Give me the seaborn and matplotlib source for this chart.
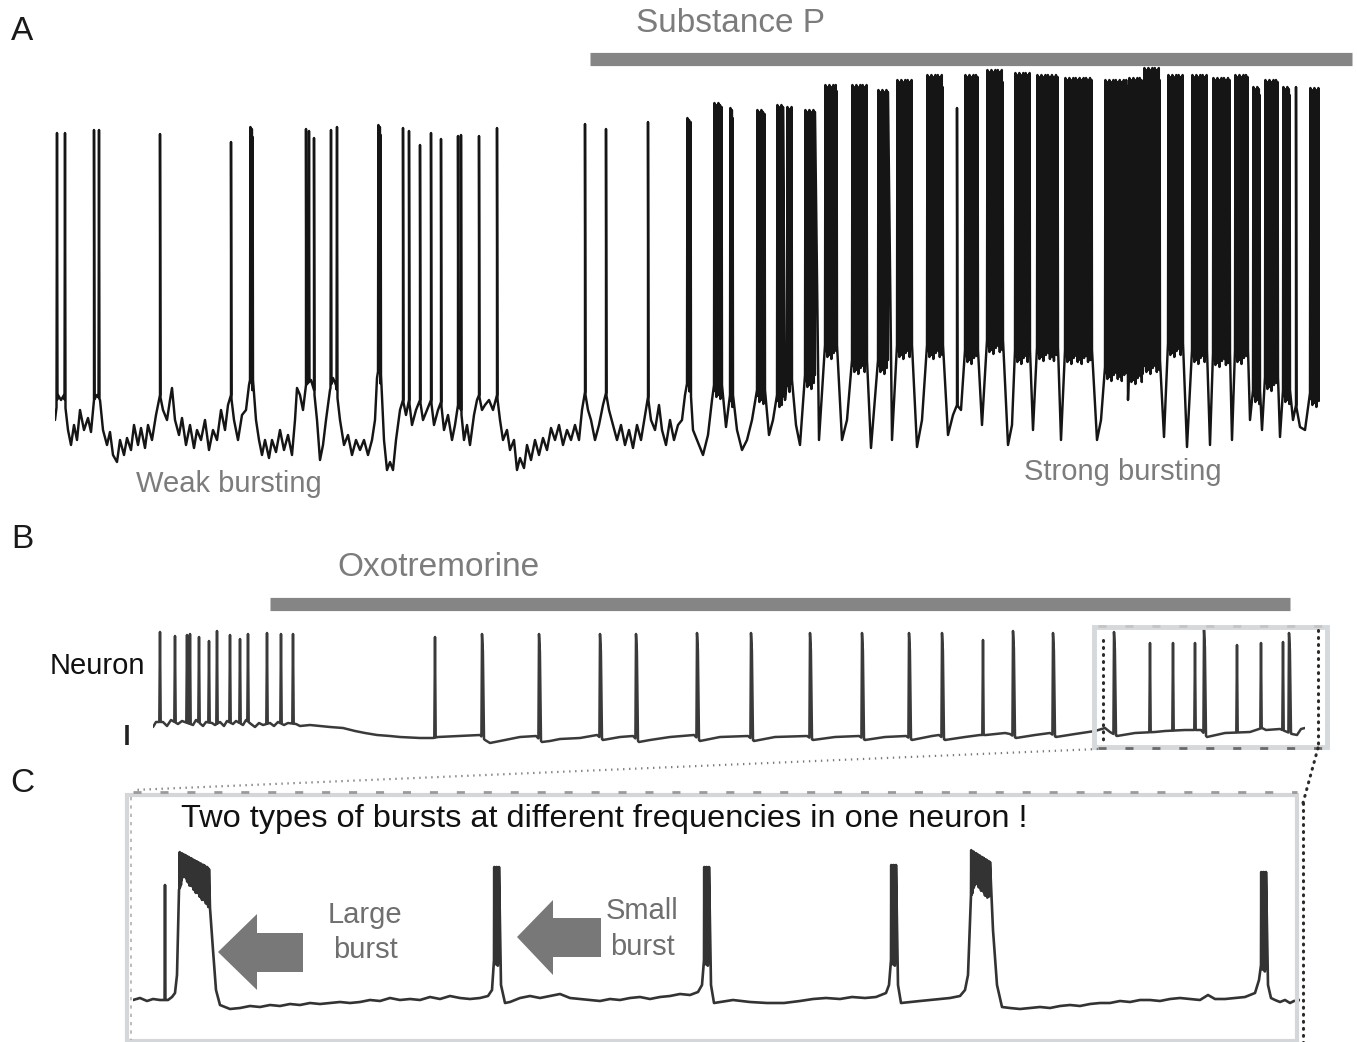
import numpy as np
import pandas as pd
import matplotlib
matplotlib.use("Agg")
import matplotlib.pyplot as plt
import matplotlib.transforms as mtransforms
from matplotlib.patches import Polygon, Rectangle
import seaborn as sns

# ---------------------------------------------------------------------------
# Panel A: whole-cell recording, Substance P application (time s, Vm mV)
# ---------------------------------------------------------------------------
A_BASE_T = [
    0, 1.5, 3, 4.5, 6.5, 8, 9.5, 11, 12.5, 14.5,
    16.5, 18, 19.5, 21, 22.5, 24, 26, 27.5, 29, 31,
    32.5, 34.5, 36, 38, 39.5, 41.5, 43, 45, 46.5, 48.5,
    50.5, 52.5, 54, 56, 57.5, 58.5, 60, 62, 63.5, 65.5,
    67.5, 69.5, 71, 73, 75, 77, 79, 81, 83, 85,
    86.5, 88, 89.5, 91.5, 93.5, 95.5, 97, 98, 99, 100.5,
    102, 103.5, 105, 107, 108.5, 110.5, 112.5, 114.5, 116.5, 118.5,
    120, 121, 122.5, 124, 125.5, 128, 129.5, 131, 132.5, 134,
    135.5, 137.5, 139, 140.5, 142.5, 144.5, 146.5, 148.5, 150.5, 152.5,
    154.5, 156.5, 158.5, 160, 161, 162, 163, 164.5, 166, 167.5,
    169, 170.5, 172.5, 174, 175.5, 177, 178.5, 180.5, 182.5, 184,
    186, 188, 189.5, 191.5, 193, 194.5, 196.5, 198.5, 200, 201.5,
    203, 204.5, 206, 207.5, 209.5, 211, 212, 213.5, 215, 217,
    219, 221, 222.5, 224, 226, 227.5, 229.5, 231, 232.5, 234.5,
    236, 238, 240, 242, 244, 246, 248, 250, 252, 254,
    256, 258, 260, 262, 263.5, 265, 266.5, 268, 270, 272,
    274, 275.5, 277, 279, 281, 283, 285, 287, 289, 291,
    293, 295, 296.5, 298, 300, 302, 303.5, 305.5, 307.5, 309.5,
    311.5, 313.5, 315, 316.5, 317.5, 319, 321, 324, 326.5, 328.5,
    329.5, 333.5, 335.5, 337.5, 339, 341, 343.5, 346, 348.5, 351,
    355, 357, 359, 361, 364, 365, 366, 368.5, 370.5, 372.5,
    375, 380, 382, 385, 391, 393.5, 396, 398.5, 406, 408,
    411.5, 416.5, 418.5, 421, 428.5, 431, 433.5, 436, 444, 446.5,
    449, 451, 453, 455, 461.5, 463.5, 466, 474, 476.5, 478.5,
    480, 487.5, 489, 491, 501.5, 503, 505, 518.5, 521, 523,
    525, 536, 536.5, 537, 544, 544.5, 552.5, 554.5, 556.5, 564,
    566, 568.5, 576, 577.5, 579, 587.5, 588.5, 590, 596.5, 597.5,
    599, 602.5, 603.5, 605, 611.5, 612.5, 614, 617.5, 619, 620.5,
    622.5, 625, 627.5, 632.5,
]
A_BASE_V = [
    -57.5, -51.25, -52.5, -51.25, -60, -63.75, -58.75, -62.5, -55, -60,
    -57, -60.5, -52.5, -51.25, -52.5, -60, -63.75, -60.5, -66.25, -68,
    -62.5, -66.25, -62, -65, -58.75, -63.75, -59.5, -64.5, -58.75, -62.5,
    -56.25, -51.25, -55, -57.5, -52.5, -49.5, -57.5, -61.25, -57, -63.75,
    -58.75, -64.5, -60, -62.5, -57.5, -65, -60, -62.5, -55, -60,
    -53.75, -51.25, -57.5, -62.5, -56.25, -55, -48.75, -46.25, -47.5, -57.5,
    -62.5, -66.25, -62.5, -67, -62.5, -65.5, -60, -65, -61.25, -66.25,
    -57.5, -49.5, -51.25, -55, -48.75, -47.5, -50, -57.5, -67.5, -63.75,
    -57.5, -50, -47, -48.75, -57.5, -63.75, -61.25, -66.25, -62.5, -65,
    -62.5, -66.25, -62.5, -57.5, -47, -43.75, -46.25, -62.5, -70, -68,
    -70, -62.5, -55, -52.5, -56.25, -52.5, -58.75, -55, -52.5, -57.5,
    -55, -52.5, -58.75, -55, -53, -60, -56.25, -62.5, -58.75, -53.75,
    -55, -62.5, -58.75, -63.75, -56.25, -52.5, -51.25, -55, -53.75, -52.5,
    -55, -51.25, -57.5, -62.5, -60, -65, -62.5, -70, -67, -69.5,
    -63.75, -67.5, -62.5, -66.25, -62, -65, -59.5, -62.5, -58.75, -63.75,
    -60, -62.5, -58.75, -62.5, -55, -50.5, -55, -57.5, -62.5, -58.75,
    -53.75, -50.75, -55, -58.75, -62.5, -58.75, -63.75, -60, -64.5, -58.75,
    -62.5, -56.25, -51.75, -57.5, -60, -53.75, -60, -63.75, -57.5, -62.5,
    -58.75, -57.5, -51.25, -47, -47.5, -60, -62.5, -66.25, -61.25, -52.5,
    -48.75, -48.75, -59.25, -51.25, -51.25, -60, -65, -62.5, -57.5, -50,
    -50, -61.25, -57.5, -51.25, -51.25, -52.5, -47.5, -47.5, -58.75, -63.75,
    -46.25, -46.25, -62.5, -38.75, -38.75, -62.5, -57.5, -42.5, -42.5, -64.5,
    -42.5, -42.5, -62.5, -38.75, -38.75, -64.25, -57.5, -38.75, -38.75, -61.25,
    -56.25, -53.75, -55, -40, -40, -58.75, -37.5, -37.5, -63.75, -58.75,
    -40, -40, -60, -39.25, -39.25, -62.5, -40, -40, -62.5, -57.5,
    -44.25, -44.25, -52.5, -45, -45, -42.5, -42.5, -61.75, -38.25, -38.25,
    -64.25, -40, -40, -63.75, -40.75, -40.75, -62.5, -40, -40, -57.5,
    -50, -50, -60, -46.75, -46.75, -61.75, -50, -50, -57.5, -53.75,
    -59.25, -60, -50.75, -50.75,
]
A_SPIKE_T = [1, 5, 19.5, 22, 52.5, 88, 125.5, 127, 129.5, 138, 141, 174, 177,
             182.5, 188, 193, 201.5, 203, 212, 221, 265, 275.5, 296.5, 451, 620.5]
A_SPIKE_V = [14.25, 14.25, 15, 15, 14, 12, 15.25, 14.75, 13, 15, 15.75, 15.5, 14.75,
             11.25, 14.25, 12.75, 13.5, 13.75, 13.5, 15.5, 16.5, 15.25, 17, 20.5, 25.75]
A_BURST_START = [97.5, 161.5, 316, 329.5, 337.5, 351, 361, 366, 375, 385, 398.5,
                 411.5, 421, 436, 455, 466, 480, 491, 505, 525, 537, 544.5, 556.5,
                 568.5, 579, 590, 599, 605, 614, 627.5]
A_BURST_END = [99, 163, 318, 333.5, 339, 355, 364, 368.5, 380, 391, 406,
               416.5, 428.5, 444, 461.5, 474, 487.5, 501.5, 518.5, 536, 544, 552.5, 564,
               576, 587.5, 596.5, 602.5, 611.5, 617.5, 632.5]
A_BURST_TOP = [15.75, 16.25, 18, 21.75, 20.5, 20, 21.25, 20.75, 20, 26.25, 26.25,
               25, 27.5, 28.75, 28.75, 30, 29.25, 28.75, 28, 27.5, 28, 30.5, 28.75,
               28.75, 28, 28.75, 25.75, 27.5, 25.75, 25.5]
SUBSTANCE_P_ON = [267.5, 648.5]

# ---------------------------------------------------------------------------
# Panel B: Oxotremorine application
# ---------------------------------------------------------------------------
B_BASE_T = [
    0, 1.5, 5, 7, 9, 12.5, 14.5, 20, 21.5, 25,
    26.5, 29.5, 31, 33.5, 35.5, 37, 40, 41.5, 45, 46.5,
    49, 51, 53, 55, 58.5, 60.5, 62.5, 65.5, 67.5, 71.5,
    73.5, 78.5, 83.5, 88.5, 95, 101, 106, 112, 118.5, 123.5,
    133.5, 140, 142.5, 153.5, 163.5, 166, 168.5, 173.5, 178.5, 183.5,
    191.5, 194.5, 198.5, 203.5, 213.5, 222, 225, 233.5, 240, 243,
    248.5, 258.5, 270.5, 273.5, 283.5, 297.5, 300.5, 311, 327, 330,
    341, 353, 356, 366, 376.5, 379.5, 389.5, 393, 396, 406,
    413.5, 416.5, 426, 428.5, 431.5, 441, 448.5, 451.5, 461, 471,
    476, 478.5, 482, 491, 501, 506, 516, 524, 527, 536,
    548.5, 554.5, 556.5, 563.5, 569.5, 572, 574, 576,
]
B_BASE_V = [
    -53.6, -49.6, -49.6, -52.8, -48, -51.2, -48.8, -52, -48, -52.8,
    -49.6, -50.4, -52, -49.6, -52.8, -48.8, -51.2, -48.8, -52, -48,
    -51.2, -53.6, -50.4, -52, -50.4, -52.8, -49.6, -52, -50.4, -51.2,
    -52.8, -52, -52.8, -53.6, -54.4, -56.8, -58.4, -60, -60.8, -61.6,
    -62.4, -62.4, -61.6, -60.8, -60, -64, -66.4, -64.8, -63.2, -61.6,
    -60.8, -65.6, -64.8, -63.2, -62.4, -60, -64, -61.6, -60.8, -65.6,
    -64, -61.6, -60, -64.8, -61.6, -60.8, -64.8, -61.6, -60.8, -64,
    -61.6, -60.8, -64, -61.6, -60.8, -64, -60.8, -60, -64, -61.6,
    -60, -60, -58.4, -59.2, -62.4, -60, -58.4, -61.6, -59.2, -56.8,
    -54.4, -57.6, -60.8, -58.4, -57.6, -56.8, -56, -56, -61.6, -58.4,
    -57.6, -54.4, -56, -55.2, -59.2, -60, -55.2, -54.4,
]
B_SPIKE_T = [3.5, 11, 17, 18.5, 23, 28, 32, 38.5, 43.5, 47.5, 57, 64, 70,
             141, 415, 498.5, 510, 521, 542, 554, 565]
B_SPIKE_V = [22.4, 19.2, 20, 20.8, 18.4, 15.2, 23.2, 20, 16.8, 20.8, 21.6, 20.8, 20.8,
             18.4, 16, 13.6, 13.6, 13.6, 12, 13.6, 14.4]
B_BURST_T = [164.5, 193, 223.5, 241.5, 272, 299, 328.5, 354.5, 378, 394.5,
             430, 450, 480.5, 525.5, 568]
B_BURST_V = [20.8, 20.8, 20.8, 20.8, 21.6, 21.6, 21.6, 21.6, 21.6, 21.6,
             23.2, 21.6, 22.4, 24, 21.6]
OXO_ON = [58.5, 568.5]

# ---------------------------------------------------------------------------
# Panel C: expanded segment, large and small bursts
# ---------------------------------------------------------------------------
C_BASE_T = [
    0, 0.35, 0.7, 1.0, 1.35, 1.75, 1.95, 2.1, 2.2, 2.3,
    2.5, 2.85, 3.2, 3.55, 3.75, 3.85, 4.0, 4.15, 4.35, 4.85,
    5.35, 5.85, 6.35, 6.85, 7.35, 7.85, 8.35, 8.85, 9.35, 9.85,
    10.35, 10.85, 11.35, 11.85, 12.35, 12.85, 13.35, 13.85, 14.35, 14.85,
    15.35, 15.85, 16.35, 16.85, 17.35, 17.75, 17.95, 18.05, 18.3, 18.4,
    18.6, 18.85, 19.35, 19.85, 20.35, 20.85, 21.35, 21.85, 22.35, 22.85,
    23.35, 23.85, 24.35, 24.85, 25.35, 25.85, 26.35, 26.85, 27.35, 27.85,
    28.25, 28.45, 28.55, 28.8, 28.9, 29.05, 30.0, 30.85, 31.7, 32.55,
    33.35, 34.0, 34.65, 35.35, 35.95, 36.6, 37.15, 37.65, 37.8, 37.9,
    38.15, 38.25, 38.4, 38.85, 39.35, 39.85, 40.35, 40.85, 41.35, 41.6,
    41.75, 41.9, 42.1, 42.35, 42.6, 42.85, 43.0, 43.2, 43.45, 43.85,
    44.35, 44.85, 45.35, 45.85, 46.35, 46.85, 47.35, 47.85, 48.35, 48.85,
    49.35, 49.85, 50.35, 50.85, 51.35, 51.85, 52.35, 52.85, 53.35, 53.75,
    54.1, 54.6, 55.1, 55.6, 56.1, 56.3, 56.4, 56.65, 56.75, 56.9,
    57.1, 57.35, 57.6, 57.85, 58.05, 58.35,
]
C_BASE_V = [
    -60, -59, -60.5, -59.5, -60, -60, -58.5, -56.5, -47.5, -5,
    4, -1, -5, -9, -11, -14, -35, -55, -62.5, -64.5,
    -64, -63, -63.5, -62.5, -63, -62, -62.5, -61.5, -62, -61.5,
    -61, -61.5, -61, -60, -60.5, -59, -60, -59.5, -60, -58.5,
    -59.5, -58, -59, -59.5, -59, -58, -55, -40, -41, -52.5,
    -61.5, -61, -59, -58, -59, -58, -57, -59, -59.5, -60,
    -60.5, -59.5, -60, -59, -58.5, -59.5, -58.5, -58, -57, -57.5,
    -56, -52.5, -40, -41, -52.5, -61.5, -60, -61, -61.5, -61.5,
    -60.5, -59.5, -59, -59.5, -58.5, -59, -58.5, -56.5, -52.5, -40,
    -41, -52.5, -61.5, -61, -60.5, -60, -59.5, -59, -58, -55,
    -47.5, -7.5, 0, -2.5, -6, -7.5, -25, -52.5, -63.5, -64,
    -64.5, -64, -63.5, -64, -63, -62.5, -63, -62, -61.5, -61.5,
    -60.5, -61, -60, -60, -60.5, -59.5, -59, -59.5, -60, -57.5,
    -59.5, -59.5, -59, -58.5, -56.5, -50, -42.5, -44, -52.5, -59,
    -60, -61, -60, -61.5, -60.5, -60,
]
C_SPIKE_T = [1.6]
C_SPIKE_V = [-2.5]
C_BURST_START = [2.325, 18.05, 28.55, 37.9, 41.9, 56.4]
C_BURST_END = [3.8, 18.3, 28.8, 38.15, 42.85, 56.65]
C_BURST_TOP_START = [14, 6.5, 6.5, 7.5, 15, 4]
C_BURST_TOP_END = [6, 6.5, 6.5, 7.5, 9, 4]

# spike-to-spike ripple inside a burst (mV relative to the envelope / the floor)
RIPPLE_TOP = [0.0, -1.5, -0.5, -2.5, -1.0, 0.0, -3.0, -0.5, -2.0, -1.0, 0.0, -2.0, -0.5]
RIPPLE_FLOOR = [0.0, -1.5, -0.5, -3.0, -1.0, 0.0, -2.5, -0.5, -3.5, -1.0, -0.5, -2.0, 0.0]


def build_trace(base_t, base_v, spike_t=(), spike_v=(), spike_hw=0.25,
                burst_start=(), burst_end=(), top_start=(), top_end=(),
                burst_step=0.2, broad_t=(), broad_v=(), ripple=1.0):
    """Assemble a voltage trace from the membrane baseline, single spikes,
    broad (shouldered) spikes and high-frequency bursts."""
    bt = np.asarray(base_t, float)
    bv = np.asarray(base_v, float)

    def base_at(t):
        return np.interp(t, bt, bv)

    ts, vs = [bt], [bv]
    for t, v in zip(spike_t, spike_v):
        tt = np.array([t - spike_hw, t, t + spike_hw])
        ts.append(tt)
        vs.append(np.array([base_at(tt[0]), v, base_at(tt[2])]))
    for t, v in zip(broad_t, broad_v):
        tt = np.array([t - 0.3, t, t + 0.45, t + 1.0])
        ts.append(tt)
        vs.append(np.array([base_at(tt[0]), v, v - 14, base_at(tt[3])]))
    rt = np.array(RIPPLE_TOP) * ripple
    rf = np.array(RIPPLE_FLOOR) * ripple
    for t0, t1, a, b in zip(burst_start, burst_end, top_start, top_end):
        n = max(int(round((t1 - t0) / burst_step)), 2)
        tt = np.linspace(t0, t1, n + 1)
        idx = np.arange(n + 1)
        top = a + (b - a) * (tt - t0) / (t1 - t0) + rt[(idx // 2) % len(rt)]
        floor = base_at(tt) + rf[(idx // 2) % len(rf)]
        floor[0] = base_at(tt[0])
        floor[-1] = base_at(tt[-1])
        ts.append(tt)
        vs.append(np.where(idx % 2 == 1, top, floor))
    t_all = np.concatenate(ts)
    v_all = np.concatenate(vs)
    order = np.argsort(t_all, kind="stable")
    return pd.DataFrame({"time": t_all[order], "vm": v_all[order]})


trace_a = build_trace(A_BASE_T, A_BASE_V, A_SPIKE_T, A_SPIKE_V, spike_hw=0.25,
                      burst_start=A_BURST_START, burst_end=A_BURST_END,
                      top_start=A_BURST_TOP, top_end=A_BURST_TOP, burst_step=0.2)
trace_b = build_trace(B_BASE_T, B_BASE_V, B_SPIKE_T, B_SPIKE_V, spike_hw=0.35,
                      broad_t=B_BURST_T, broad_v=B_BURST_V)
trace_c = build_trace(C_BASE_T, C_BASE_V, C_SPIKE_T, C_SPIKE_V, spike_hw=0.02,
                      burst_start=C_BURST_START, burst_end=C_BURST_END,
                      top_start=C_BURST_TOP_START, top_end=C_BURST_TOP_END,
                      burst_step=0.012, ripple=0.6)

# ---------------------------------------------------------------------------
# Figure
# ---------------------------------------------------------------------------
sns.set_theme(style="white")
plt.rcParams["font.family"] = ["Liberation Sans", "DejaVu Sans"]

W, H = 1357, 1042
fig = plt.figure(figsize=(W / 100, H / 100), dpi=100)
fig.patch.set_facecolor("white")


def px_axes(left, top, right, bottom):
    return fig.add_axes([left / W, 1 - bottom / H, (right - left) / W, (bottom - top) / H])


ax_a = px_axes(55, 60, 1320, 480)
ax_b = px_axes(153, 620, 1305, 755)
ax_c = px_axes(133, 840, 1300, 1020)

sns.lineplot(data=trace_a, x="time", y="vm", ax=ax_a, sort=False, estimator=None,
             color="#151515", linewidth=1.75)
sns.lineplot(data=trace_b, x="time", y="vm", ax=ax_b, sort=False, estimator=None,
             color="#3a3a3a", linewidth=1.8)
sns.lineplot(data=trace_c, x="time", y="vm", ax=ax_c, sort=False, estimator=None,
             color="#333333", linewidth=1.9)

ax_a.set_xlim(0, 632.5)
ax_a.set_ylim(-72.5, 32.5)
ax_b.set_xlim(0, 576)
ax_b.set_ylim(-76, 32)
ax_c.set_xlim(0, 58.35)
ax_c.set_ylim(-70, 20)
for ax in (ax_a, ax_b, ax_c):
    ax.set_axis_off()

# overlay in pixel units for annotation
ov = fig.add_axes([0, 0, 1, 1])
ov.set_xlim(0, W)
ov.set_ylim(H, 0)
ov.set_axis_off()

# drug application bars (time on the trace axes, height on the overlay)
bar_color = "#858585"
ov.plot(SUBSTANCE_P_ON, [59, 59], color=bar_color, lw=9.5, solid_capstyle="butt",
        transform=mtransforms.blended_transform_factory(ax_a.transData, ov.transData),
        clip_on=False)
ov.plot(OXO_ON, [604, 604], color=bar_color, lw=9.5, solid_capstyle="butt",
        transform=mtransforms.blended_transform_factory(ax_b.transData, ov.transData),
        clip_on=False)

grey_txt = "#7c7c7c"
ov.text(22, 31, "A", fontsize=24, color="#1a1a1a", ha="center", va="center")
ov.text(22, 540, "B", fontsize=24, color="#1a1a1a", ha="center", va="center")
ov.text(22, 784, "C", fontsize=24, color="#1a1a1a", ha="center", va="center")
ov.text(731, 23, "Substance P", fontsize=24, color=grey_txt, ha="center", va="center")
ov.text(229, 484, "Weak bursting", fontsize=21, color=grey_txt, ha="center", va="center")
ov.text(1123, 472, "Strong bursting", fontsize=21, color=grey_txt, ha="center", va="center")
ov.text(438, 568, "Oxotremorine", fontsize=24, color=grey_txt, ha="center", va="center")
ov.text(97, 666, "Neuron", fontsize=21, color="#111111", ha="center", va="center")
ov.text(181, 819, "Two types of bursts at different frequencies in one neuron !",
        fontsize=23.4, color="#111111", ha="left", va="center")
ov.text(365, 915, "Large", fontsize=21, color="#6f6f6f", ha="center", va="center")
ov.text(365, 950, "burst", fontsize=21, color="#6f6f6f", ha="center", va="center")
ov.text(642, 911, "Small", fontsize=21, color="#6f6f6f", ha="center", va="center")
ov.text(642, 947, "burst", fontsize=21, color="#6f6f6f", ha="center", va="center")

# voltage scale bar
ov.plot([127, 127], [725, 745], color="#222222", lw=2.6, solid_capstyle="butt")

# block arrows pointing at the bursts
arrow_color = "#787878"
ov.add_patch(Polygon([(218, 952), (257, 914), (257, 933), (303, 933), (303, 972),
                      (257, 972), (257, 990)], closed=True, fc=arrow_color, ec="none"))
ov.add_patch(Polygon([(517, 937), (553, 900), (553, 918), (601, 918), (601, 957),
                      (553, 957), (553, 975)], closed=True, fc=arrow_color, ec="none"))

# inset frame in B
ov.add_patch(Rectangle((1094, 627), 233, 120, fill=False, ec="#d5d9dc", lw=3.5))
dots = dict(color="#2a2a2a", lw=2.2, ls=(0, (0.3, 2.0)), dash_capstyle="round")
ov.plot([1103, 1103], [640, 745], **dots)
ov.plot([1318, 1318], [630, 745], **dots)
ov.plot([1098, 1322], [748, 748], color="#6a6a6a", lw=2, ls=(0, (2.9, 6.8)))
ov.plot([1098, 1322], [626, 626], color="#c4c4c4", lw=2, ls=(0, (2.9, 6.8)))

# connector lines to the expanded panel
ov.plot([1098, 133], [749, 790], color="#7a7a7a", lw=1.6, ls=(0, (0.6, 2.1)))
ov.plot([1318, 1303], [748, 803], **dots)
ov.plot([1303, 1303], [803, 1042], **dots)

# frame of panel C
ov.add_patch(Rectangle((127, 795), 1170, 246, fill=False, ec="#d3d7da", lw=3))
ov.plot([133, 1297], [792, 792], color="#9a9a9a", lw=2, ls=(0, (2.9, 6.8)))
ov.plot([131, 131], [797, 1040], color="#b0b0b0", lw=1.2, ls=(0, (2, 3)))

fig.savefig("out.png", dpi=100, facecolor="white")
